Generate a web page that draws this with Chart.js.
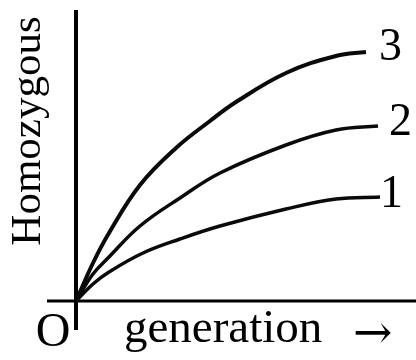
<!DOCTYPE html>
<html>
<head>
<meta charset="utf-8">
<script src="https://cdn.jsdelivr.net/npm/chart.js@4"></script>
<style>
  body { margin: 0; background: #fff; }
  #wrap { width: 416px; height: 360px; position: relative; }
</style>
</head>
<body>
<div id="wrap"><canvas id="graph"></canvas></div>
<script>
// generations (x) and homozygosity (y) for each curve
const gen1 = [0, 1.7, 3.3, 6.7, 10.4, 14.4, 21, 26, 30.4];
const hom1 = [0, 1.7, 2.9, 4.8, 6.2, 7.5, 9.2, 10.2, 10.4];
const gen2 = [0, 1.7, 3.3, 6.4, 10.4, 14.4, 21, 26, 30.2];
const hom2 = [0, 2.7, 4.4, 7.5, 10.3, 12.8, 15.6, 17.1, 17.5];
const gen3 = [0, 1.7, 3.3, 6.4, 10, 13.4, 16, 21, 26, 29];
const hom3 = [0, 3.8, 6.8, 11.6, 15.3, 18, 19.9, 22.8, 24.5, 24.9];
const curveNames = ['1', '2', '3'];

const serif = '"Liberation Serif", "Times New Roman", serif';

function toPoints(xs, ys) {
    return xs.map((x, i) => ({ x: x, y: ys[i] }));
}

// axes are drawn by hand so they can cross at the origin
const axesPlugin = {
    id: 'axes',
    beforeDatasetsDraw(chart) {
        const ctx = chart.ctx;
        const xs = chart.scales.x;
        const ys = chart.scales.y;
        const x0 = xs.getPixelForValue(0);
        const y0 = ys.getPixelForValue(0);
        ctx.save();
        ctx.strokeStyle = '#000';
        ctx.lineWidth = 4;
        ctx.beginPath();
        ctx.moveTo(x0, ys.getPixelForValue(29.1));
        ctx.lineTo(x0, ys.getPixelForValue(-2.9));
        ctx.stroke();
        ctx.lineWidth = 3;
        ctx.beginPath();
        ctx.moveTo(xs.getPixelForValue(-2.9), y0);
        ctx.lineTo(xs.getPixelForValue(34), y0);
        ctx.stroke();
        ctx.restore();
    }
};

// axis words, origin mark and the curve numbers
const labelPlugin = {
    id: 'labels',
    afterDatasetsDraw(chart) {
        const ctx = chart.ctx;
        const xs = chart.scales.x;
        const ys = chart.scales.y;
        const x0 = xs.getPixelForValue(0);
        const y0 = ys.getPixelForValue(0);
        ctx.save();
        ctx.fillStyle = '#000';
        ctx.textBaseline = 'middle';

        ctx.font = '48px ' + serif;
        ctx.textAlign = 'center';
        ctx.fillText('O', x0 - 23, y0 + 32);

        ctx.font = '47px ' + serif;
        ctx.textAlign = 'left';
        ctx.fillText('generation', x0 + 48, y0 + 29);
        ctx.font = '47px "DejaVu Serif", serif';
        ctx.fillText('\u2192', x0 + 277, y0 + 35);

        ctx.save();
        ctx.translate(x0 - 47, 131);
        ctx.rotate(-Math.PI / 2);
        ctx.textAlign = 'center';
        ctx.font = '43px ' + serif;
        ctx.fillText('Homozygous', 0, 0);
        ctx.restore();

        // number beside the end of each curve
        const nudge = [[0, -2], [11, -3], [13, -4]];
        ctx.font = '46px ' + serif;
        ctx.textAlign = 'left';
        chart.data.datasets.forEach((ds, i) => {
            const pts = chart.getDatasetMeta(i).data;
            const last = pts[pts.length - 1];
            ctx.fillText(ds.label, last.x + nudge[i][0], last.y + nudge[i][1]);
        });
        ctx.restore();
    }
};

const widths = [3.5, 3.5, 4];
const series = [toPoints(gen1, hom1), toPoints(gen2, hom2), toPoints(gen3, hom3)];

new Chart(document.getElementById('graph'), {
    type: 'line',
    data: {
        datasets: series.map((pts, i) => ({
            label: curveNames[i],
            data: pts,
            borderColor: '#0a0a0a',
            borderWidth: widths[i],
            pointRadius: 0,
            tension: 0.4,
            fill: false
        }))
    },
    options: {
        responsive: true,
        maintainAspectRatio: false,
        animation: false,
        layout: { padding: 0 },
        plugins: {
            legend: { display: false },
            tooltip: { enabled: false }
        },
        scales: {
            x: { type: 'linear', display: false, min: -7.6, max: 34.0 },
            y: { type: 'linear', display: false, min: -5.9, max: 30.1 }
        }
    },
    plugins: [axesPlugin, labelPlugin]
});
</script>
</body>
</html>
